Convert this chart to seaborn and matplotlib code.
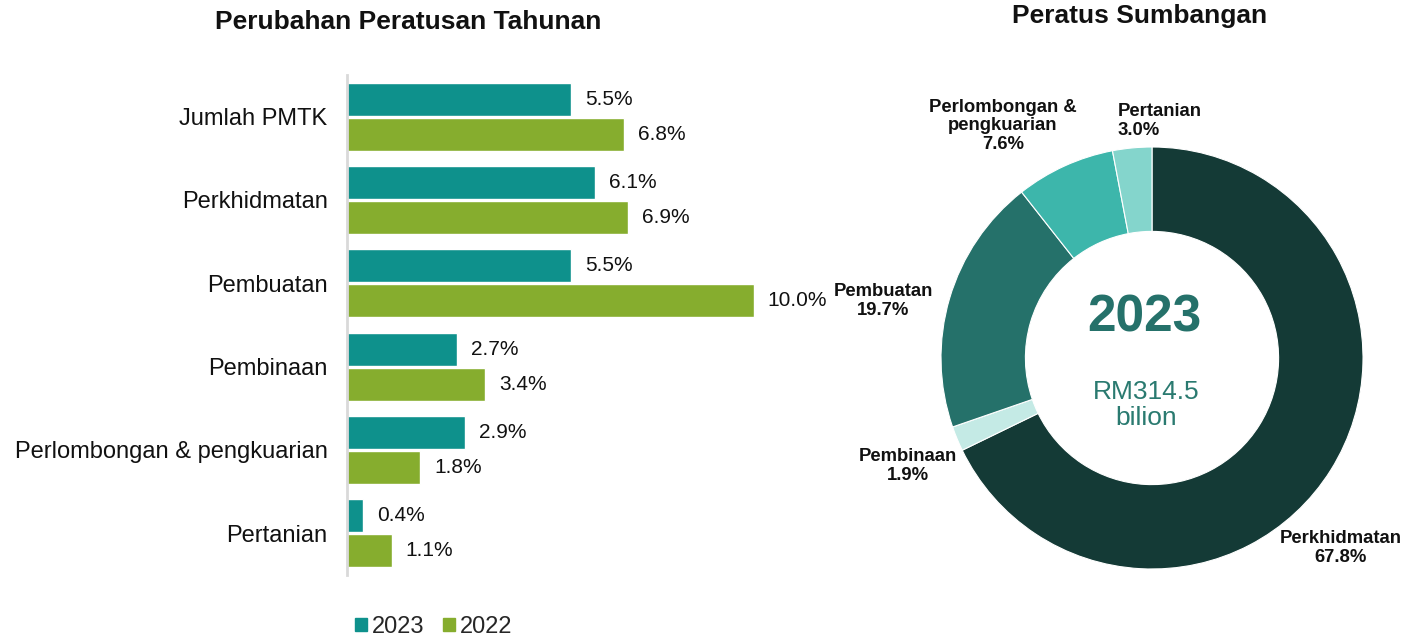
import numpy as np
import pandas as pd
import matplotlib
matplotlib.use("Agg")
import matplotlib.pyplot as plt
import seaborn as sns

# Bar chart data
sectors = ["Jumlah PMTK", "Perkhidmatan", "Pembuatan", "Pembinaan",
           "Perlombongan & pengkuarian", "Pertanian"]
growth_2023 = [5.5, 6.1, 5.5, 2.7, 2.9, 0.4]
growth_2022 = [6.8, 6.9, 10.0, 3.4, 1.8, 1.1]
years = ["2023", "2022"]

# Donut data (clockwise from top)
share_labels = ["Perkhidmatan", "Pembinaan", "Pembuatan",
                "Perlombongan &\npengkuarian", "Pertanian"]
share_values = [67.8, 1.9, 19.7, 7.6, 3.0]
total_label = "RM314.5\nbilion"

sns.set_theme(style="white")
plt.rcParams["font.family"] = ["Liberation Sans", "DejaVu Sans"]

bar_colors = {"2023": "#0E918C", "2022": "#86AD2E"}
pie_colors = ["#143A36", "#C4EAE5", "#25716A", "#3DB6AB", "#84D5CC"]
ink = "#111111"

W, H = 1414, 638
fig = plt.figure(figsize=(W / 100, H / 100), dpi=100)

# ---- bar chart ----
df = pd.DataFrame({
    "sector": sectors * 2,
    "year": ["2023"] * len(sectors) + ["2022"] * len(sectors),
    "value": growth_2023 + growth_2022,
})

ax = fig.add_axes([347 / W, 1 - 575 / H, 468 / W, 500 / H])
sns.barplot(data=df, y="sector", x="value", hue="year", hue_order=years,
            palette=bar_colors, orient="h", width=0.84, gap=0.06,
            saturation=1, legend=False, ax=ax)
ax.set_xlim(0, 11.5)
ax.set_xlabel("")
ax.set_ylabel("")
ax.set_xticks([])
ax.tick_params(axis="y", length=0, pad=14, labelsize=17, labelcolor=ink)
for s in ["top", "right", "bottom"]:
    ax.spines[s].set_visible(False)
ax.spines["left"].set_color("#D9D9D9")
ax.spines["left"].set_linewidth(2)

for cont in ax.containers:
    ax.bar_label(cont, labels=[f"{v:.1f}%" for v in cont.datavalues],
                 padding=10, fontsize=15, color=ink)

fig.text(408 / W, 1 - 22 / H, "Perubahan Peratusan Tahunan", ha="center",
         va="center", fontsize=19, fontweight="bold", color=ink)

handles = [plt.Rectangle((0, 0), 1, 1, color=bar_colors[y]) for y in years]
fig.legend(handles, years, loc="center left", bbox_to_anchor=(355 / W, 1 - 627 / H),
           ncol=2, frameon=False, fontsize=17, handlelength=0.5, handleheight=0.5,
           handletextpad=0.2, columnspacing=0.8, borderaxespad=0, borderpad=0)

# ---- donut ----
cx, cy, r = 1152, 358, 211
pax = fig.add_axes([(cx - r) / W, 1 - (cy + r) / H, 2 * r / W, 2 * r / H])
pax.pie(share_values, colors=pie_colors, startangle=90, counterclock=False,
        radius=1, wedgeprops=dict(width=0.4, edgecolor="white", linewidth=0.8))
pax.set_xlim(-1, 1)
pax.set_ylim(-1, 1)
pax.set_aspect("equal")
pax.axis("off")

# label anchor points (pixel positions in the figure)
label_pos = [(1341, 548, "center"), (908, 466, "center"), (883, 301, "center"),
             (1003, 126, "center"), (1118, 121, "left")]
for name, v, (px, py, ha) in zip(share_labels, share_values, label_pos):
    fig.text(px / W, 1 - py / H, f"{name}\n{v:.1f}%", ha=ha, va="center",
             fontsize=13.3, fontweight="bold", color=ink, linespacing=1.1)

fig.text(1144 / W, 1 - 318 / H, "2023", ha="center", va="center", fontsize=37,
         fontweight="heavy", color="#25716A")
fig.text(1146 / W, 1 - 405 / H, total_label, ha="center", va="center", fontsize=19,
         color="#2A7A70", linespacing=1.1)

fig.text(1140 / W, 1 - 16 / H, "Peratus Sumbangan", ha="center", va="center",
         fontsize=19, fontweight="bold", color=ink)

fig.savefig("out.png", dpi=100)
